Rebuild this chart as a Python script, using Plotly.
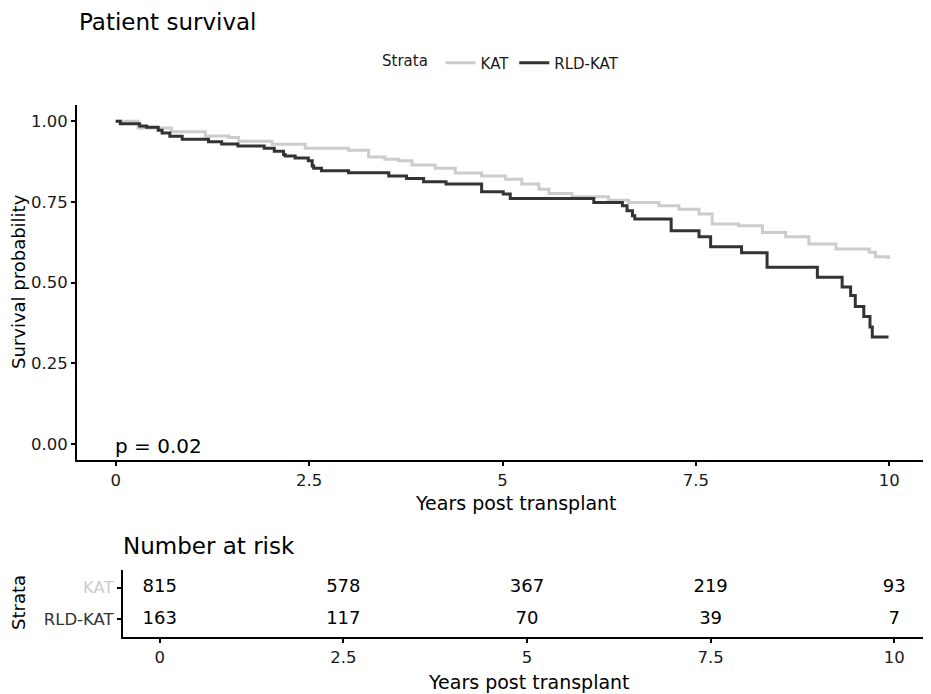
import plotly.graph_objects as go

# Kaplan-Meier step points
kat_years = [0, 0.29, 0.72, 1.16, 1.46, 1.59, 2.02, 2.45, 3.01, 3.27, 3.48, 3.66, 3.83,
             4.13, 4.39, 4.73, 5.04, 5.25, 5.47, 5.60, 5.90, 6.37, 6.63, 7.02, 7.28,
             7.54, 7.71, 8.05, 8.36, 8.66, 8.96, 9.31, 9.74, 9.82, 9.99]
kat_surv = [1.0, 0.979, 0.967, 0.954, 0.949, 0.938, 0.928, 0.916, 0.910, 0.889, 0.882,
            0.877, 0.864, 0.854, 0.839, 0.830, 0.820, 0.805, 0.789, 0.776, 0.766, 0.755,
            0.748, 0.738, 0.727, 0.712, 0.681, 0.676, 0.655, 0.642, 0.619, 0.604, 0.594,
            0.580, 0.573]

rld_years = [0, 0.06, 0.31, 0.40, 0.55, 0.60, 0.70, 0.86, 1.20, 1.37, 1.58, 1.92, 2.05,
             2.17, 2.19, 2.32, 2.49, 2.54, 2.56, 2.66, 3.01, 3.53, 3.76, 3.98, 4.27,
             4.73, 5.01, 5.10, 6.18, 6.55, 6.61, 6.68, 6.71, 7.18, 7.54, 7.69, 8.09,
             8.42, 9.07, 9.39, 9.50, 9.56, 9.67, 9.75, 9.78, 9.99]
rld_surv = [1.0, 0.992, 0.985, 0.981, 0.972, 0.963, 0.953, 0.944, 0.936, 0.929, 0.923,
            0.916, 0.907, 0.897, 0.892, 0.886, 0.877, 0.861, 0.854, 0.846, 0.840, 0.830,
            0.822, 0.812, 0.805, 0.781, 0.774, 0.760, 0.748, 0.738, 0.722, 0.707, 0.697,
            0.660, 0.642, 0.611, 0.592, 0.547, 0.516, 0.486, 0.460, 0.426, 0.395, 0.362,
            0.331, 0.331]

risk_times = [0, 2.5, 5, 7.5, 10]
kat_risk = [815, 578, 367, 219, 93]
rld_risk = [163, 117, 70, 39, 7]

tick_vals = [0, 2.5, 5, 7.5, 10]
tick_text = ["0", "2.5", "5", "7.5", "10"]

KAT_COL = "#cccccc"
RLD_COL = "#333333"
FONT = "DejaVu Sans, Verdana, sans-serif"
W, H = 931, 694
OFF = 8  # the page body adds an 8px margin


# pixel position in the window -> paper fraction
def px(x):
    return (x - OFF) / W


def py(y):
    return 1 - (y - OFF) / H


fig = go.Figure()

fig.add_trace(go.Scatter(x=kat_years, y=kat_surv, mode="lines", name="KAT",
                         line=dict(color=KAT_COL, width=3, shape="hv")))
fig.add_trace(go.Scatter(x=rld_years, y=rld_surv, mode="lines", name="RLD-KAT",
                         line=dict(color=RLD_COL, width=3, shape="hv")))

# risk table numbers
fig.add_trace(go.Scatter(x=risk_times, y=[2] * len(kat_risk), text=[str(v) for v in kat_risk],
                         mode="text", textfont=dict(size=18, color="black", family=FONT),
                         xaxis="x2", yaxis="y2", showlegend=False, hoverinfo="skip"))
fig.add_trace(go.Scatter(x=risk_times, y=[1] * len(rld_risk), text=[str(v) for v in rld_risk],
                         mode="text", textfont=dict(size=18, color="black", family=FONT),
                         xaxis="x2", yaxis="y2", showlegend=False, hoverinfo="skip"))

axis_style = dict(showgrid=False, zeroline=False, showline=True, linecolor="black",
                  linewidth=2, ticks="outside", ticklen=4, tickwidth=1.5, tickcolor="black",
                  tickfont=dict(size=16.5, color="#1a1a1a", family=FONT))

fig.update_layout(
    width=W, height=H,
    margin=dict(l=0, r=0, t=0, b=0),
    plot_bgcolor="white", paper_bgcolor="white",
    font=dict(family=FONT, color="black"),
    xaxis=dict(domain=[px(77), px(928)], range=[-0.5, 10.5], tickvals=tick_vals,
               ticktext=tick_text, anchor="y", **axis_style),
    yaxis=dict(domain=[py(460), py(105)], range=[-0.05, 1.05],
               tickvals=[0, 0.25, 0.5, 0.75, 1.0],
               ticktext=["0.00", "0.25", "0.50", "0.75", "1.00"], anchor="x",
               **axis_style),
    xaxis2=dict(domain=[px(123), px(931)], range=[-0.5, 10.5], tickvals=tick_vals,
                ticktext=tick_text, anchor="y2", **axis_style),
    yaxis2=dict(domain=[py(637), py(570)], range=[0.45, 2.55], tickvals=[1, 2],
                ticktext=["<span style='color:#333333'>RLD-KAT</span>",
                          "<span style='color:#cccccc'>KAT</span>"],
                anchor="x2", **axis_style),
    legend=dict(orientation="h", x=px(502), y=py(63), xanchor="center", yanchor="middle",
                title=dict(text="Strata ", font=dict(size=15)),
                font=dict(size=15, color="#1a1a1a"), itemwidth=30),
    showlegend=True,
)

fig.add_annotation(text="Patient survival", xref="paper", yref="paper",
                   x=px(78), y=1, xanchor="left", yanchor="top", borderpad=0,
                   showarrow=False, font=dict(size=23))
fig.add_annotation(text="Survival probability", xref="paper", yref="paper",
                   x=px(18), y=py(282), textangle=-90, xanchor="center",
                   yanchor="middle", borderpad=0, showarrow=False, font=dict(size=18))
fig.add_annotation(text="Years post transplant", xref="paper", yref="paper",
                   x=px(516), y=py(503), xanchor="center", yanchor="middle",
                   borderpad=0, showarrow=False, font=dict(size=19))
fig.add_annotation(text="p = 0.02", xref="x", yref="y", x=0, y=0,
                   xanchor="left", yanchor="middle", xshift=-3, yshift=-2,
                   showarrow=False, font=dict(size=20))
fig.add_annotation(text="Number at risk", xref="paper", yref="paper",
                   x=px(121), y=py(546), xanchor="left", yanchor="middle",
                   showarrow=False, font=dict(size=23))
fig.add_annotation(text="Strata", xref="paper", yref="paper",
                   x=px(18), y=py(603), textangle=-90, xanchor="center",
                   yanchor="middle", borderpad=0, showarrow=False, font=dict(size=18))
fig.add_annotation(text="Years post transplant", xref="paper", yref="paper",
                   x=px(529), y=py(682), xanchor="center", yanchor="middle",
                   borderpad=0, showarrow=False, font=dict(size=19))

fig.write_html("out.html")
